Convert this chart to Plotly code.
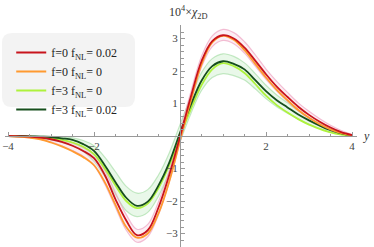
import plotly.graph_objects as go

x = [-4, -3.75, -3.5, -3.25, -3, -2.75, -2.5, -2.25, -2, -1.75, -1.5, -1.25, -1,
     -0.75, -0.5, -0.25, 0, 0.25, 0.5, 0.75, 1, 1.25, 1.5, 1.75, 2, 2.25, 2.5,
     2.75, 3, 3.25, 3.5, 3.75, 4]

red = [0, -0.01, -0.02, -0.05, -0.1, -0.18, -0.3, -0.46, -0.68, -1.2, -1.95, -2.6, -3.05,
       -2.9, -2.2, -1.2, -0.02, 1.2, 2.3, 2.92, 3.1, 3.0, 2.72, 2.32, 1.9, 1.52, 1.2,
       0.9, 0.65, 0.44, 0.26, 0.12, 0.03]
orange = [0, -0.02, -0.05, -0.1, -0.2, -0.32, -0.47, -0.65, -0.9, -1.42, -2.12, -2.8, -3.13,
          -3.0, -2.38, -1.4, -0.15, 1.08, 2.2, 2.88, 3.08, 2.96, 2.64, 2.22, 1.8, 1.42, 1.1,
          0.8, 0.56, 0.36, 0.2, 0.09, 0.02]
dgreen = [0, 0, -0.01, -0.02, -0.03, -0.07, -0.12, -0.25, -0.46, -0.9, -1.42, -1.9, -2.15,
          -2.02, -1.52, -0.82, 0.1, 0.95, 1.7, 2.15, 2.3, 2.22, 2.05, 1.72, 1.38, 1.1, 0.88,
          0.66, 0.48, 0.32, 0.18, 0.08, 0.02]
lgreen = [0, -0.01, -0.02, -0.04, -0.07, -0.12, -0.2, -0.33, -0.56, -1.0, -1.52, -2.0, -2.22,
          -2.08, -1.6, -0.9, 0.0, 0.82, 1.56, 2.05, 2.24, 2.15, 1.94, 1.6, 1.24, 0.95, 0.72,
          0.52, 0.35, 0.22, 0.11, 0.04, 0.0]

pink_hi = [0.01, 0.0, 0.0, -0.02, -0.06, -0.12, -0.22, -0.36, -0.58, -1.05, -1.75, -2.42, -2.87,
           -2.72, -2.02, -1.05, 0.12, 1.35, 2.45, 3.08, 3.28, 3.18, 2.9, 2.5, 2.06, 1.68, 1.34,
           1.02, 0.76, 0.53, 0.33, 0.17, 0.05]
pink_lo = [-0.01, -0.03, -0.06, -0.1, -0.18, -0.3, -0.45, -0.62, -0.9, -1.48, -2.2, -2.9, -3.27,
           -3.1, -2.42, -1.42, -0.2, 1.02, 2.12, 2.75, 2.94, 2.84, 2.55, 2.15, 1.74, 1.38, 1.06,
           0.78, 0.55, 0.36, 0.2, 0.08, 0.01]
green_hi = [0.01, 0.01, 0.0, 0.0, -0.01, -0.03, -0.06, -0.14, -0.3, -0.65, -1.1, -1.55, -1.76,
            -1.65, -1.2, -0.52, 0.35, 1.2, 1.95, 2.38, 2.53, 2.45, 2.25, 1.92, 1.56, 1.26, 1.02,
            0.78, 0.57, 0.39, 0.23, 0.11, 0.03]
green_lo = [-0.01, -0.02, -0.04, -0.07, -0.12, -0.2, -0.3, -0.48, -0.78, -1.25, -1.8, -2.3, -2.48,
            -2.35, -1.85, -1.12, -0.18, 0.68, 1.4, 1.8, 1.92, 1.86, 1.72, 1.45, 1.15, 0.9, 0.7,
            0.52, 0.36, 0.23, 0.12, 0.05, 0.0]

names = ["f=0 f<sub>NL</sub>= 0.02", "f=0 f<sub>NL</sub>= 0", "f=3 f<sub>NL</sub>= 0",
         "f=3 f<sub>NL</sub>= 0.02"]
x_ticks = [-4, -2, 2, 4]
x_ticktext = ["\u22124", "\u22122", "2", "4"]
y_ticks = [-3, -2, -1, 1, 2, 3]
y_ticktext = ["\u22123", "\u22122", "\u22121", "1", "2", "3"]

C_RED = "#c8141c"
C_ORANGE = "#ff9a30"
C_LGREEN = "#aef23c"
C_DGREEN = "#164f1c"

W, H = 374, 247
X0, X1 = 5, 357        # pixel extent of x axis line
Y0, Y1 = 25, 247       # pixel extent of y axis line
ux, uy = 43.0, 32.5
ox, oy = 180, 136

fig = go.Figure()
# bands
fig.add_trace(go.Scatter(x=x, y=green_lo, mode="lines", line=dict(color="rgba(150,215,150,0.55)", width=1.2),
                         showlegend=False, hoverinfo="skip", line_shape="spline"))
fig.add_trace(go.Scatter(x=x, y=green_hi, mode="lines", line=dict(color="rgba(150,215,150,0.55)", width=1.2),
                         fill="tonexty", fillcolor="rgba(200,238,200,0.4)", showlegend=False,
                         hoverinfo="skip", line_shape="spline"))
fig.add_trace(go.Scatter(x=x, y=pink_lo, mode="lines", line=dict(color="rgba(235,150,185,0.6)", width=1.2),
                         showlegend=False, hoverinfo="skip", line_shape="spline"))
fig.add_trace(go.Scatter(x=x, y=pink_hi, mode="lines", line=dict(color="rgba(235,150,185,0.6)", width=1.2),
                         fill="tonexty", fillcolor="rgba(245,200,220,0.3)", showlegend=False,
                         hoverinfo="skip", line_shape="spline"))
# lines
fig.add_trace(go.Scatter(x=x, y=lgreen, mode="lines", name=names[2], line=dict(color=C_LGREEN, width=1.8),
                         line_shape="spline", legendrank=3))
fig.add_trace(go.Scatter(x=x, y=dgreen, mode="lines", name=names[3], line=dict(color=C_DGREEN, width=1.8),
                         line_shape="spline", legendrank=4))
fig.add_trace(go.Scatter(x=x, y=orange, mode="lines", name=names[1], line=dict(color=C_ORANGE, width=1.8),
                         line_shape="spline", legendrank=2))
fig.add_trace(go.Scatter(x=x, y=red, mode="lines", name=names[0], line=dict(color=C_RED, width=1.8),
                         line_shape="spline", legendrank=1))

serif = "Liberation Serif"

fig.update_layout(
    width=W, height=H,
    margin=dict(l=0, r=0, t=0, b=0, autoexpand=False),
    paper_bgcolor="white", plot_bgcolor="rgba(0,0,0,0)",
    font=dict(family=serif, size=11, color="#333"),
    xaxis=dict(
        domain=[X0 / W, X1 / W],
        range=[(X0 - ox) / ux, (X1 - ox) / ux],
        anchor="free", position=1 - oy / H, automargin=False, layer="above traces",
        showgrid=False, zeroline=False, showline=True, linecolor="#999", linewidth=1,
        tickvals=x_ticks, ticktext=x_ticktext, ticks="inside", ticklen=4, tickcolor="#999",
        minor=dict(dtick=0.5, tick0=0, ticks="inside", ticklen=2.5, tickcolor="#999"),
        tickfont=dict(family=serif, size=11, color="#444"),
    ),
    yaxis=dict(
        domain=[1 - Y1 / H, 1 - Y0 / H],
        range=[(oy - Y1) / uy, (oy - Y0) / uy],
        anchor="free", position=ox / W, automargin=False, layer="above traces",
        showgrid=False, zeroline=False, showline=True, linecolor="#999", linewidth=1,
        tickvals=y_ticks, ticktext=y_ticktext, ticks="inside", ticklen=4, tickcolor="#999",
        minor=dict(dtick=0.2, tick0=0, ticks="inside", ticklen=2.5, tickcolor="#999"),
        tickfont=dict(family=serif, size=11, color="#444"),
    ),
    legend=dict(
        x=0.03, y=1 - 38 / H, xanchor="left", yanchor="top",
        bgcolor="rgba(0,0,0,0)", borderwidth=0, traceorder="normal",
        font=dict(family=serif, size=12, color="#222"),
        tracegroupgap=0, itemwidth=30,
    ),
    showlegend=True,
)

# rounded legend backdrop
lx0, lx1, ly0, ly1, r = 2, 135, 33, 107, 10
def px(xp): return xp / W
def py(yp): return 1 - yp / H
path = (f"M {px(lx0 + r)},{py(ly0)} L {px(lx1 - r)},{py(ly0)} "
        f"Q {px(lx1)},{py(ly0)} {px(lx1)},{py(ly0 + r)} L {px(lx1)},{py(ly1 - r)} "
        f"Q {px(lx1)},{py(ly1)} {px(lx1 - r)},{py(ly1)} L {px(lx0 + r)},{py(ly1)} "
        f"Q {px(lx0)},{py(ly1)} {px(lx0)},{py(ly1 - r)} L {px(lx0)},{py(ly0 + r)} "
        f"Q {px(lx0)},{py(ly0)} {px(lx0 + r)},{py(ly0)} Z")
fig.add_shape(type="path", path=path, xref="paper", yref="paper",
              fillcolor="#f3f3f3", line=dict(width=0), layer="below")

fig.add_annotation(x=188 / W, y=1 - 13 / H, xref="paper", yref="paper",
                   text="10<sup>4</sup>×<i>χ</i><sub>2D</sub>", showarrow=False,
                   font=dict(family=serif, size=12, color="#333"), xanchor="center", yanchor="middle")
fig.add_annotation(x=366 / W, y=1 - 136 / H, xref="paper", yref="paper",
                   text="<i>y</i>", showarrow=False,
                   font=dict(family=serif, size=12, color="#333"), xanchor="center", yanchor="middle")

fig.write_html("out.html", config={"displayModeBar": False},
               post_script="document.body.style.margin='0';document.body.style.padding='0';")
